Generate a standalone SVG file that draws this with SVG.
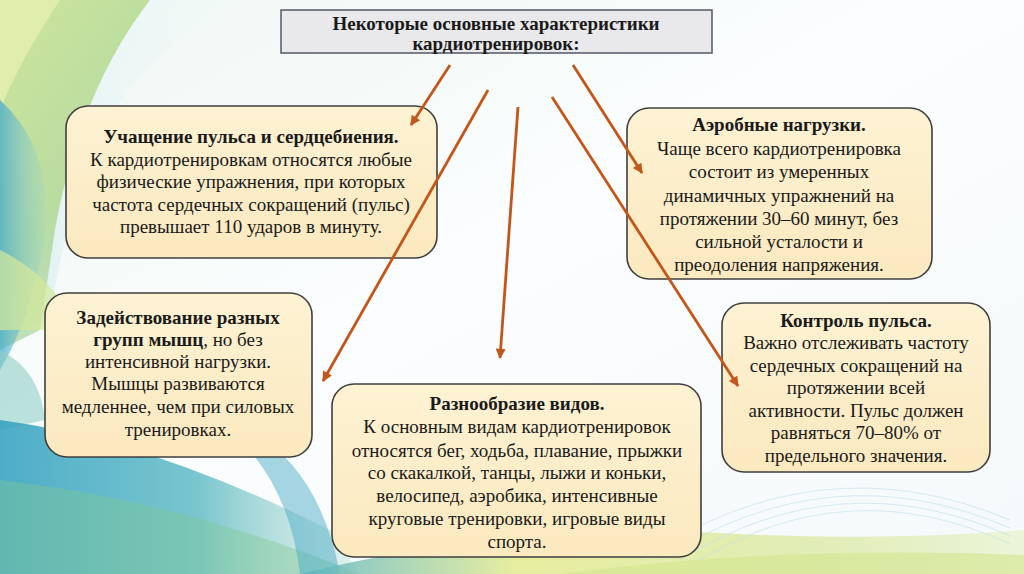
<svg xmlns="http://www.w3.org/2000/svg" width="1024" height="574" viewBox="0 0 1024 574">
<defs>
<style>
.box{fill:url(#boxg);stroke:#3f3f3f;stroke-width:1.6}
.t{font-size:19px;fill:#1a1a1a;text-anchor:middle}
.b{font-weight:bold}
.arr{stroke:#c4561a;stroke-width:2.8;fill:none;marker-end:url(#ah)}
.mesh{fill:none;stroke:#bfe1ea;stroke-width:0.8;opacity:0.8}
</style>
<linearGradient id="boxg" x1="0" y1="0" x2="0" y2="1">
<stop offset="0" stop-color="#fdf2d3"/>
<stop offset="1" stop-color="#fbe9bf"/>
</linearGradient>
<linearGradient id="bg" x1="0" y1="0" x2="1" y2="1">
<stop offset="0" stop-color="#eef7f2"/>
<stop offset="0.45" stop-color="#fbfdfe"/>
<stop offset="1" stop-color="#f5f9fb"/>
</linearGradient>
<linearGradient id="gl" x1="0" y1="0" x2="0.6" y2="1">
<stop offset="0" stop-color="#cfe59c"/>
<stop offset="0.6" stop-color="#b8dca0"/>
<stop offset="1" stop-color="#a9d7b8" stop-opacity="0.6"/>
</linearGradient>
<linearGradient id="lb" x1="0" y1="0" x2="1" y2="0">
<stop offset="0" stop-color="#d9eff2"/>
<stop offset="1" stop-color="#f4fafb" stop-opacity="0"/>
</linearGradient>
<linearGradient id="bl" x1="0" y1="0" x2="1" y2="0">
<stop offset="0" stop-color="#3aa6cf"/>
<stop offset="1" stop-color="#8fd0d8" stop-opacity="0.2"/>
</linearGradient>
<linearGradient id="bt" x1="0" y1="0" x2="1" y2="0">
<stop offset="0" stop-color="#2f9fbf"/>
<stop offset="0.55" stop-color="#62bcc6"/>
<stop offset="1" stop-color="#a7d8c6" stop-opacity="0.3"/>
</linearGradient>
<linearGradient id="gy" x1="0" y1="0" x2="1" y2="0">
<stop offset="0" stop-color="#55b3c3"/>
<stop offset="0.3" stop-color="#e3ea88"/>
<stop offset="0.7" stop-color="#dbe9a4"/>
<stop offset="1" stop-color="#e9f3cf"/>
</linearGradient>
<marker id="ah" viewBox="0 0 10 10" refX="9" refY="5" markerWidth="4.2" markerHeight="3.6" orient="auto" markerUnits="strokeWidth">
<path d="M0,0 L10,5 L0,10 Z" fill="#c4561a"/>
</marker>
</defs>

<g id="background">
<rect width="1024" height="574" fill="url(#bg)"/>
<path d="M0,0 L250,0 Q140,40 90,160 Q60,240 50,320 L0,340 Z" fill="url(#lb)"/>
<path d="M0,0 L150,0 Q80,90 55,230 L40,330 L0,350 Z" fill="url(#gl)"/>
<path d="M0,0 L60,0 Q20,60 0,110 Z" fill="#e6f0b2" opacity="0.8"/>
<path d="M0,100 Q55,150 45,240 Q30,320 0,370 Z" fill="url(#bl)" opacity="0.7"/>
<path d="M0,250 Q40,270 60,300 L45,330 L0,330 Z" fill="#d5e89a" opacity="0.7"/>
<path d="M0,350 Q40,370 45,420 L0,430 Z" fill="#8fcfc4" opacity="0.6"/>
<path d="M0,420 Q150,440 330,530 L360,574 L0,574 Z" fill="url(#bt)" opacity="0.85"/>
<path d="M0,480 Q180,500 360,574 L0,574 Z" fill="#7fc78f" opacity="0.4"/>
<path d="M250,430 Q320,470 340,574 L300,574 Q290,490 240,440 Z" fill="#3da6c4" opacity="0.45"/>
<path d="M300,574 Q520,520 760,535 Q900,540 1024,530 L1024,574 Z" fill="url(#gy)" opacity="0.8"/>
<path d="M560,574 Q780,545 1024,555 L1024,574 Z" fill="#d2e68e" opacity="0.6"/>
<path class="mesh" d="M640,560 Q820,440 1010,520"/>
<path class="mesh" d="M660,560 Q830,450 1010,528"/>
<path class="mesh" d="M680,560 Q840,460 1010,536"/>
<path class="mesh" d="M700,560 Q850,470 1010,544"/>
</g>

<g font-family="Liberation Serif, Times New Roman, serif">
<g id="title">
<rect x="281" y="10" width="431" height="43" fill="#e9e9eb" stroke="#5b6170" stroke-width="1.6"/>
<text class="t b" x="496" y="30">Некоторые основные характеристики</text>
<text class="t b" x="496" y="50">кардиотренировок:</text>
</g>

<g id="node-pulse">
<rect class="box" x="66" y="106" width="371" height="152" rx="22"/>
<text class="t b" x="251" y="143">Учащение пульса и сердцебиения.</text>
<text class="t" x="251" y="166">К кардиотренировкам относятся любые</text>
<text class="t" x="251" y="188">физические упражнения, при которых</text>
<text class="t" x="251" y="211">частота сердечных сокращений (пульс)</text>
<text class="t" x="251" y="233">превышает 110 ударов в минуту.</text>
</g>

<g id="node-aerobic">
<rect class="box" x="627" y="108" width="305" height="171" rx="22"/>
<text class="t b" x="779" y="131">Аэробные нагрузки.</text>
<text class="t" x="779" y="155">Чаще всего кардиотренировка</text>
<text class="t" x="779" y="178">состоит из умеренных</text>
<text class="t" x="779" y="202">динамичных упражнений на</text>
<text class="t" x="779" y="225">протяжении 30–60 минут, без</text>
<text class="t" x="779" y="248">сильной усталости и</text>
<text class="t" x="779" y="271">преодоления напряжения.</text>
</g>

<g id="node-muscles">
<rect class="box" x="45" y="293" width="267" height="164" rx="22"/>
<text class="t b" x="178" y="324">Задействование разных</text>
<text class="t" x="178" y="346"><tspan class="b">групп мышц</tspan>, но без</text>
<text class="t" x="178" y="368">интенсивной нагрузки.</text>
<text class="t" x="178" y="390">Мышцы развиваются</text>
<text class="t" x="178" y="413">медленнее, чем при силовых</text>
<text class="t" x="178" y="436">тренировках.</text>
</g>

<g id="node-variety">
<rect class="box" x="332" y="384" width="369" height="173" rx="22"/>
<text class="t b" x="517" y="410">Разнообразие видов.</text>
<text class="t" x="517" y="433">К основным видам кардиотренировок</text>
<text class="t" x="517" y="457">относятся бег, ходьба, плавание, прыжки</text>
<text class="t" x="517" y="479">со скакалкой, танцы, лыжи и коньки,</text>
<text class="t" x="517" y="502">велосипед, аэробика, интенсивные</text>
<text class="t" x="517" y="525">круговые тренировки, игровые виды</text>
<text class="t" x="517" y="548">спорта.</text>
</g>

<g id="node-control">
<rect class="box" x="722" y="303" width="268" height="169" rx="22"/>
<text class="t b" x="856" y="327">Контроль пульса.</text>
<text class="t" x="856" y="349">Важно отслеживать частоту</text>
<text class="t" x="856" y="372">сердечных сокращений на</text>
<text class="t" x="856" y="394">протяжении всей</text>
<text class="t" x="856" y="417">активности. Пульс должен</text>
<text class="t" x="856" y="439">равняться 70–80% от</text>
<text class="t" x="856" y="462">предельного значения.</text>
</g>
</g>

<g id="connectors">
<line class="arr" x1="450" y1="65" x2="411" y2="125"/>
<line class="arr" x1="488" y1="90" x2="323" y2="381"/>
<line class="arr" x1="518" y1="107" x2="500" y2="358"/>
<line class="arr" x1="552" y1="97" x2="738" y2="386"/>
<line class="arr" x1="573" y1="65" x2="642" y2="173"/>
</g>
</svg>
